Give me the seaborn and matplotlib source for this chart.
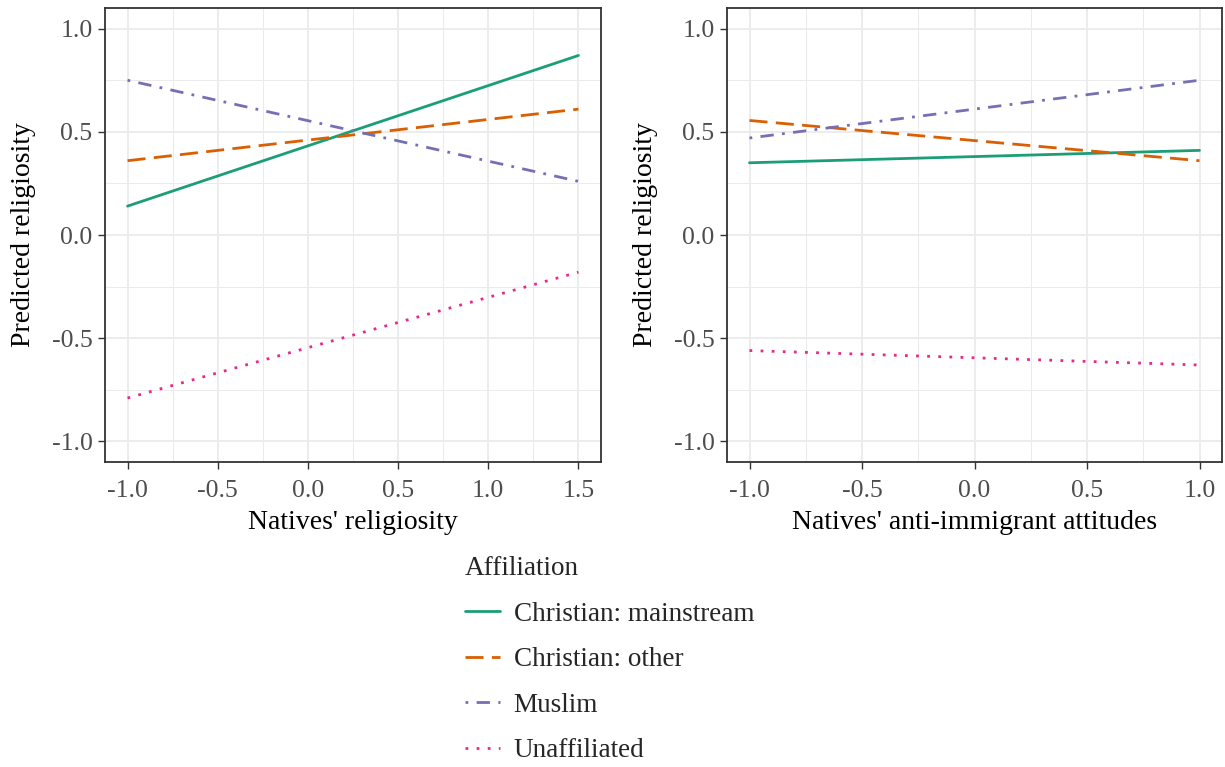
import numpy as np
import pandas as pd
import matplotlib
matplotlib.use("Agg")
import matplotlib.pyplot as plt
import seaborn as sns
from matplotlib.lines import Line2D

# ---- data ----
affiliations = ["Christian: mainstream", "Christian: other", "Muslim", "Unaffiliated"]
x_relig = [-1.0, 1.5]
y_relig_cm = [0.14, 0.87]
y_relig_co = [0.36, 0.61]
y_relig_mu = [0.75, 0.26]
y_relig_un = [-0.79, -0.18]

x_anti = [-1.0, 1.0]
y_anti_cm = [0.35, 0.41]
y_anti_co = [0.555, 0.36]
y_anti_mu = [0.47, 0.75]
y_anti_un = [-0.56, -0.63]

x_ticks_relig = [-1.0, -0.5, 0.0, 0.5, 1.0, 1.5]
x_ticks_anti = [-1.0, -0.5, 0.0, 0.5, 1.0]
y_ticks = [-1.0, -0.5, 0.0, 0.5, 1.0]

colors = ["#1B9E77", "#D95F02", "#7570B3", "#E7298A"]
dash_styles = ["", (6.5, 3.0), (1.0, 3.0, 4.8, 3.0), (1.0, 3.0)]

def make_df(x, ys):
    rows = []
    for aff, yv in zip(affiliations, ys):
        for xi, yi in zip(x, yv):
            rows.append({"x": xi, "y": yi, "Affiliation": aff})
    return pd.DataFrame(rows)

df1 = make_df(x_relig, [y_relig_cm, y_relig_co, y_relig_mu, y_relig_un])
df2 = make_df(x_anti, [y_anti_cm, y_anti_co, y_anti_mu, y_anti_un])

sns.set_theme(style="white")
plt.rcParams["font.family"] = ["Liberation Serif", "DejaVu Serif"]

W, H = 1225, 767
fig = plt.figure(figsize=(W / 100, H / 100), dpi=100)

def add_ax(l, t, r, b):
    return fig.add_axes([l / W, 1 - b / H, (r - l) / W, (b - t) / H])

ax1 = add_ax(105, 8, 601, 462)
ax2 = add_ax(727, 8, 1222, 462)

pal = dict(zip(affiliations, colors))
dsh = dict(zip(affiliations, dash_styles))

tick_col = "#4D4D4D"
TICK_FS = 18.5
TITLE_FS = 20
LEG_FS = 19.5
for ax, df, xt, xl, xlab in [
    (ax1, df1, x_ticks_relig, (-1.125, 1.625), "Natives' religiosity"),
    (ax2, df2, x_ticks_anti, (-1.1, 1.1), "Natives' anti-immigrant attitudes"),
]:
    sns.lineplot(data=df, x="x", y="y", hue="Affiliation", style="Affiliation",
                 palette=pal, dashes=dsh, hue_order=affiliations, style_order=affiliations,
                 linewidth=2.0, ax=ax, legend=False)
    ax.set_xlim(*xl)
    ax.set_ylim(-1.1, 1.1)
    ax.set_xticks(xt)
    ax.set_xticklabels([f"{v:.1f}" for v in xt])
    ax.set_yticks(y_ticks)
    ax.set_yticklabels([f"{v:.1f}" for v in y_ticks])
    minor_x = [(xt[i] + xt[i + 1]) / 2 for i in range(len(xt) - 1)]
    minor_y = [(y_ticks[i] + y_ticks[i + 1]) / 2 for i in range(len(y_ticks) - 1)]
    ax.set_xticks(minor_x, minor=True)
    ax.set_yticks(minor_y, minor=True)
    ax.grid(True, which="major", color="#EBEBEB", linewidth=1.3)
    ax.grid(True, which="minor", color="#EBEBEB", linewidth=0.7)
    ax.set_axisbelow(True)
    ax.tick_params(axis="both", which="major", length=5, width=1.0, color="#333333",
                   labelsize=TICK_FS, labelcolor=tick_col, pad=4, bottom=True, left=True)
    ax.tick_params(axis="x", which="major", pad=8)
    ax.tick_params(axis="both", which="minor", length=0)
    for sp in ax.spines.values():
        sp.set_color("#333333")
        sp.set_linewidth(1.3)
    ax.set_xlabel(xlab, fontsize=TITLE_FS, color="black", labelpad=6)
    ax.set_ylabel("Predicted religiosity", fontsize=TITLE_FS, color="black", labelpad=11)

handles = [Line2D([0], [0], color=c, linewidth=2.0,
                  linestyle="-" if d == "" else (0, d)) for c, d in zip(colors, dash_styles)]
leg = fig.legend(handles, affiliations, title="Affiliation", loc="upper left",
                 bbox_to_anchor=(465 / W, 1 - 556 / H), frameon=False,
                 borderpad=0, borderaxespad=0,
                 fontsize=LEG_FS, title_fontsize=LEG_FS, handlelength=1.3,
                 labelspacing=0.76, handletextpad=0.5, alignment="left")

fig.savefig("out.png", dpi=100)
